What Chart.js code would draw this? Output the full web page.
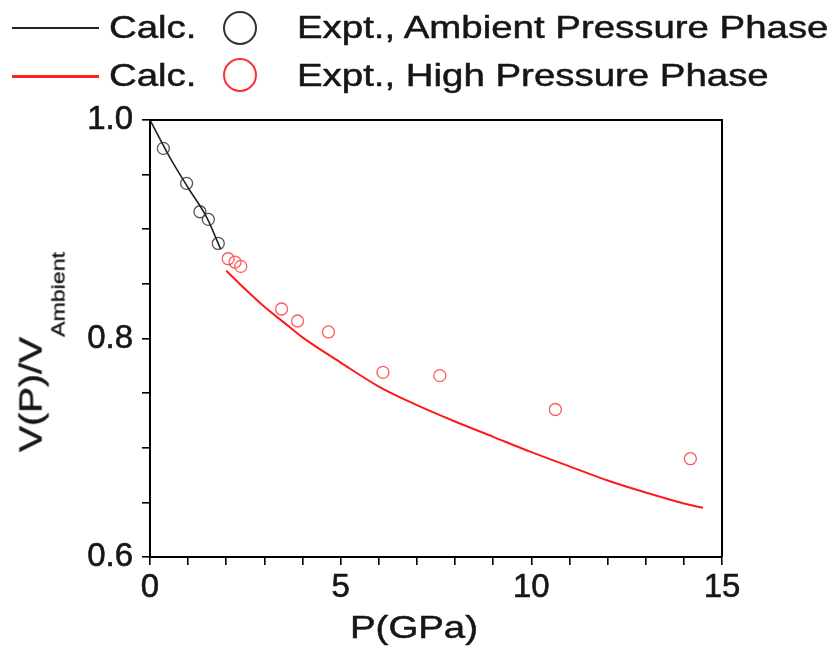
<!DOCTYPE html>
<html>
<head>
<meta charset="utf-8">
<script src="https://cdn.jsdelivr.net/npm/chart.js@4/dist/chart.umd.min.js"></script>
<style>
  html, body { margin: 0; padding: 0; background: #fff; }
  #wrap { position: relative; width: 835px; height: 651px; overflow: hidden; }
  canvas { position: absolute; left: 0; top: 0; }
  .txt { position: absolute; font-family: "Liberation Sans", Arial, sans-serif; font-size: 32px; line-height: 32px;
         white-space: nowrap; color: #161616; transform-origin: 0 0; -webkit-text-stroke: 0.5px #161616; }
  .ltext { transform: scaleX(1.2); }
  .lline { position: absolute; left: 12px; width: 87px; }
  .lcirc { position: absolute; width: 34px; height: 34px; box-sizing: border-box; border-radius: 50%; border: 2.5px solid #333; }
  .anchor { position: absolute; width: 0; height: 0; }
</style>
</head>
<body>
<div id="wrap">
  <canvas id="c" width="835" height="651"></canvas>

  <div class="lline" style="top:27px;height:2px;background:#222"></div>
  <span class="txt ltext" style="left:109px;top:11px">Calc.</span>
  <div class="lcirc" style="left:223px;top:11px;border-color:#333"></div>
  <span class="txt ltext" style="left:297px;top:11px">Expt., Ambient Pressure Phase</span>

  <div class="lline" style="top:75px;height:2.5px;background:#ff2020"></div>
  <span class="txt ltext" style="left:109px;top:59px">Calc.</span>
  <div class="lcirc" style="left:223px;top:58px;border-color:#ff3030"></div>
  <span class="txt ltext" style="left:297px;top:59px">Expt., High Pressure Phase</span>

  <div class="anchor" style="left:414px;top:627px">
    <div class="txt" style="transform: scaleX(1.2) translate(-50%,-50%);">P(GPa)</div>
  </div>
  <div class="anchor" style="left:33px;top:352px">
    <div class="txt" style="transform: rotate(-90deg) scaleX(1.22) translate(-50%,-50%);">V(P)/V<span style="font-size:19px;position:relative;top:23px;-webkit-text-stroke:0.3px #161616;">Ambient</span></div>
  </div>
</div>
<script>
// ---- data ----
const calcAmbientP = [0, 0.5, 1.0, 1.5, 1.85];
const calcAmbientV = [1.0, 0.967, 0.938, 0.910, 0.882];

const calcHighP = [2.0, 2.5, 3.0, 3.5, 4.0, 5.0, 6.0, 7.0, 8.0, 9.0, 10.0, 11.0, 12.0, 13.0, 14.0, 14.5];
const calcHighV = [0.862, 0.845, 0.829, 0.815, 0.801, 0.778, 0.756, 0.739, 0.724, 0.710, 0.696, 0.683, 0.670, 0.659, 0.649, 0.645];

const exptAmbientP = [0.35, 0.96, 1.31, 1.53, 1.79];
const exptAmbientV = [0.974, 0.942, 0.916, 0.909, 0.887];

const exptHighP = [2.05, 2.23, 2.38, 3.45, 3.87, 4.68, 6.11, 7.60, 10.63, 14.17];
const exptHighV = [0.873, 0.870, 0.866, 0.827, 0.816, 0.806, 0.769, 0.766, 0.735, 0.690];

const xTickLabels = [0, 5, 10, 15];
const yTickLabels = [0.6, 0.8, 1.0];

const toPts = (xs, ys) => xs.map((x, i) => ({ x: x, y: ys[i] }));

const framePlugin = {
  id: 'frame',
  afterDraw(chart) {
    const a = chart.chartArea, ctx = chart.ctx;
    ctx.save();
    ctx.strokeStyle = '#000';
    ctx.lineWidth = 2;
    ctx.beginPath();
    ctx.moveTo(a.left, a.top);
    ctx.lineTo(a.right, a.top);
    ctx.lineTo(a.right, a.bottom);
    ctx.stroke();
    ctx.restore();
  }
};

const tickFont = { family: '"Liberation Sans", Arial, sans-serif', size: 33 };

new Chart(document.getElementById('c'), {
  type: 'scatter',
  data: {
    datasets: [
      { label: 'Calc. (Ambient)', data: toPts(calcAmbientP, calcAmbientV), showLine: true,
        borderColor: '#222', borderWidth: 1.6, pointRadius: 0, cubicInterpolationMode: 'monotone', fill: false },
      { label: 'Calc. (High)', data: toPts(calcHighP, calcHighV), showLine: true,
        borderColor: '#ff1a1a', borderWidth: 2, pointRadius: 0, cubicInterpolationMode: 'monotone', fill: false },
      { label: 'Expt., Ambient Pressure Phase', data: toPts(exptAmbientP, exptAmbientV), showLine: false,
        borderColor: '#555', backgroundColor: 'rgba(0,0,0,0)', borderWidth: 1.3, pointRadius: 6 },
      { label: 'Expt., High Pressure Phase', data: toPts(exptHighP, exptHighV), showLine: false,
        borderColor: '#ff5a5a', backgroundColor: 'rgba(0,0,0,0)', borderWidth: 1.3, pointRadius: 6 }
    ]
  },
  options: {
    responsive: false,
    animation: false,
    devicePixelRatio: 1,
    layout: { padding: { top: 120, right: 113, left: 0, bottom: 0 } },
    plugins: { legend: { display: false }, tooltip: { enabled: false } },
    scales: {
      x: {
        type: 'linear', min: 0, max: 15,
        afterFit(s) { s.height = 94; },
        ticks: {
          stepSize: 1, autoSkip: false, maxRotation: 0, padding: 3, color: '#161616', font: tickFont,
          textStrokeColor: '#161616', textStrokeWidth: 0.6,
          callback: (v) => xTickLabels.includes(Math.round(v * 1000) / 1000) ? String(v) : ''
        },
        grid: { display: true, drawOnChartArea: false, drawTicks: true, tickLength: 8, color: '#000', lineWidth: 1.6 },
        border: { display: true, color: '#000', width: 2 }
      },
      y: {
        type: 'linear', min: 0.6, max: 1.0,
        afterFit(s) { s.width = 150; },
        ticks: {
          stepSize: 0.05, autoSkip: false, padding: 9, color: '#161616', font: tickFont,
          textStrokeColor: '#161616', textStrokeWidth: 0.6,
          callback: (v) => {
            const r = Math.round(v * 100) / 100;
            return yTickLabels.some(t => Math.abs(t - r) < 1e-6) ? r.toFixed(1) : '';
          }
        },
        grid: { display: true, drawOnChartArea: false, drawTicks: true, tickLength: 8, color: '#000', lineWidth: 1.6 },
        border: { display: true, color: '#000', width: 2 }
      }
    }
  },
  plugins: [framePlugin]
});
</script>
</body>
</html>
